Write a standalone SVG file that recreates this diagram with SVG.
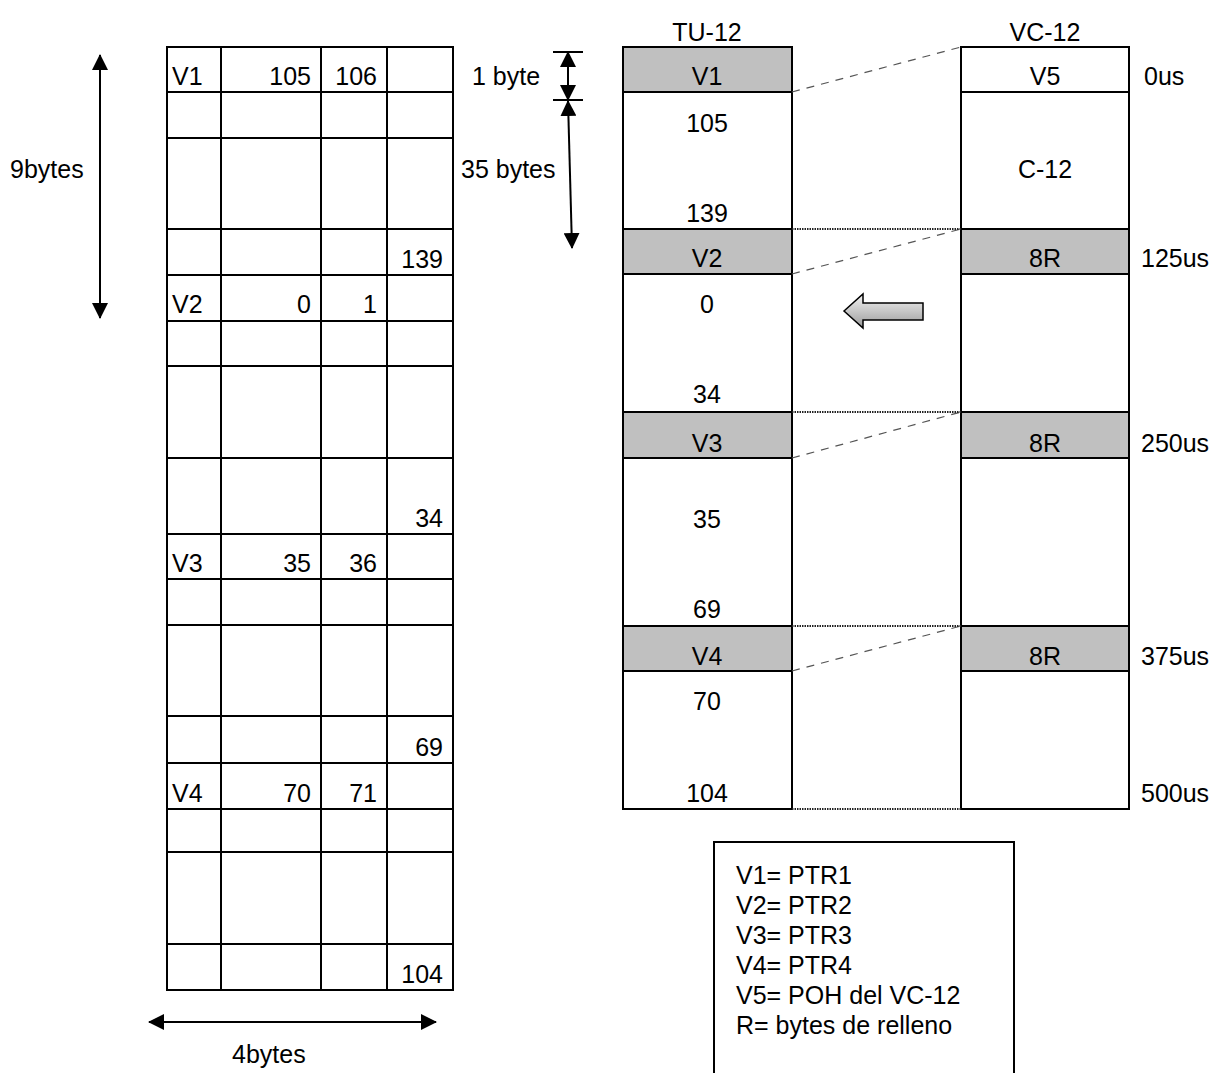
<svg xmlns="http://www.w3.org/2000/svg" width="1215" height="1073" viewBox="0 0 1215 1073">
<style>
text{font-family:"Liberation Sans",Arial,sans-serif;font-size:25px;fill:#000}
.c{text-anchor:middle}
.r{text-anchor:end}
.cell{fill:#fff;stroke:#000;stroke-width:2}
.sh{fill:#c0c0c0;stroke:#000;stroke-width:2}
.ln{stroke:#000;stroke-width:2;fill:none}
.dash{stroke:#555;stroke-width:1.2;stroke-dasharray:8 7;fill:none}
.dot{stroke:#222;stroke-width:2;stroke-dasharray:1.5 1;fill:none}
.arr{stroke:#000;stroke-width:2;fill:none;marker-start:url(#ah);marker-end:url(#ah)}
</style>
<defs>
<marker id="ah" viewBox="0 0 16 16" refX="15" refY="8" markerWidth="16" markerHeight="16" markerUnits="userSpaceOnUse" orient="auto-start-reverse">
<path d="M0,0 L16,8 L0,16 z" fill="#000"/>
</marker>
<linearGradient id="g" x1="0" y1="0" x2="0" y2="1">
<stop offset="0" stop-color="#f4f4f4"/>
<stop offset="1" stop-color="#9a9a9a"/>
</linearGradient>
</defs>
<rect width="1215" height="1073" fill="#fff"/>

<g id="left-table">
<rect class="cell" x="167" y="47" width="286" height="943"/>
<path class="ln" d="M221,47V990M321,47V990M387,47V990"/>
<path class="ln" d="M167,92H453M167,138H453M167,229H453M167,275H453M167,321H453M167,366H453M167,458H453M167,534H453M167,579H453M167,625H453M167,716H453M167,763H453M167,809H453M167,852H453M167,944H453"/>
<text x="172" y="85">V1</text><text class="r" x="311" y="85">105</text><text class="r" x="377" y="85">106</text>
<text class="r" x="443" y="268">139</text>
<text x="172" y="313">V2</text><text class="r" x="311" y="313">0</text><text class="r" x="377" y="313">1</text>
<text class="r" x="443" y="527">34</text>
<text x="172" y="572">V3</text><text class="r" x="311" y="572">35</text><text class="r" x="377" y="572">36</text>
<text class="r" x="443" y="756">69</text>
<text x="172" y="802">V4</text><text class="r" x="311" y="802">70</text><text class="r" x="377" y="802">71</text>
<text class="r" x="443" y="983">104</text>
</g>

<g id="dim-9bytes">
<line class="arr" x1="100" y1="55" x2="100" y2="318"/>
<text x="10" y="178">9bytes</text>
</g>

<g id="dim-4bytes">
<line class="arr" x1="149" y1="1022" x2="436" y2="1022"/>
<text x="232" y="1063">4bytes</text>
</g>

<g id="dim-1byte">
<path class="ln" d="M553,52H583M553,100H583"/>
<line class="arr" x1="568" y1="52" x2="568" y2="100"/>
<text x="472" y="85">1 byte</text>
</g>

<g id="dim-35bytes">
<line class="arr" x1="568" y1="101" x2="572" y2="248"/>
<text x="461" y="178">35 bytes</text>
</g>

<g id="tu12">
<text class="c" x="707" y="41">TU-12</text>
<rect class="cell" x="623" y="47" width="169" height="762"/>
<rect class="sh" x="623" y="47" width="169" height="45"/>
<rect class="sh" x="623" y="229" width="169" height="45"/>
<rect class="sh" x="623" y="412" width="169" height="46"/>
<rect class="sh" x="623" y="626" width="169" height="45"/>
<text class="c" x="707" y="85">V1</text>
<text class="c" x="707" y="132">105</text>
<text class="c" x="707" y="222">139</text>
<text class="c" x="707" y="267">V2</text>
<text class="c" x="707" y="313">0</text>
<text class="c" x="707" y="403">34</text>
<text class="c" x="707" y="452">V3</text>
<text class="c" x="707" y="528">35</text>
<text class="c" x="707" y="618">69</text>
<text class="c" x="707" y="665">V4</text>
<text class="c" x="707" y="710">70</text>
<text class="c" x="707" y="802">104</text>
</g>

<g id="vc12">
<text class="c" x="1045" y="41">VC-12</text>
<rect class="cell" x="961" y="47" width="168" height="762"/>
<path class="ln" d="M961,92H1129"/>
<rect class="sh" x="961" y="229" width="168" height="45"/>
<rect class="sh" x="961" y="412" width="168" height="46"/>
<rect class="sh" x="961" y="626" width="168" height="45"/>
<text class="c" x="1045" y="85">V5</text>
<text class="c" x="1045" y="178">C-12</text>
<text class="c" x="1045" y="267">8R</text>
<text class="c" x="1045" y="452">8R</text>
<text class="c" x="1045" y="665">8R</text>
</g>

<g id="time-labels">
<text x="1144" y="85">0us</text>
<text x="1141" y="267">125us</text>
<text x="1141" y="452">250us</text>
<text x="1141" y="665">375us</text>
<text x="1141" y="802">500us</text>
</g>

<g id="connectors">
<path class="dash" d="M792,92L961,47M792,274L961,229M792,458L961,412M792,671L961,626"/>
<path class="dot" d="M792,229H961M792,412H961M792,626H961M792,809H961"/>
</g>

<g id="shift-arrow">
<path d="M844,311L863,294V303H923V320H863V328Z" fill="url(#g)" stroke="#000" stroke-width="1.5" stroke-linejoin="miter"/>
</g>

<g id="legend">
<path class="ln" d="M714,1073V842H1014V1073"/>
<text x="736" y="884">V1= PTR1</text>
<text x="736" y="914">V2= PTR2</text>
<text x="736" y="944">V3= PTR3</text>
<text x="736" y="974">V4= PTR4</text>
<text x="736" y="1004">V5= POH del VC-12</text>
<text x="736" y="1034">R= bytes de relleno</text>
</g>
</svg>
